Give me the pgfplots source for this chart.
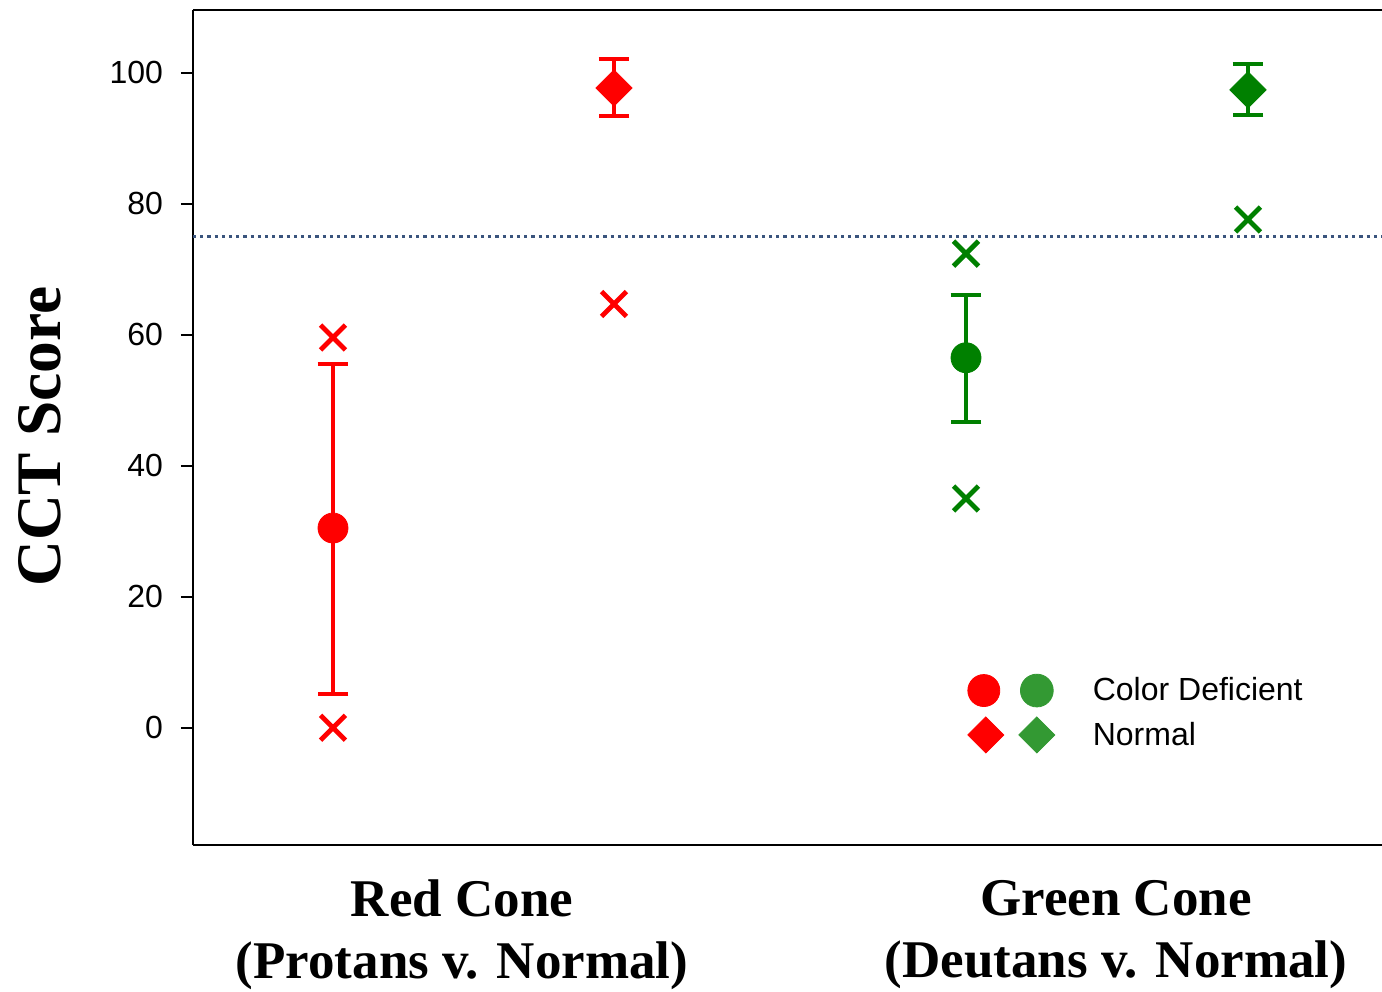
\documentclass[border=0pt]{standalone}
\usepackage{pgfplots}
\pgfplotsset{compat=1.18}
\usepackage{fontspec}
\setmainfont{Liberation Serif}
\newfontfamily\arial{Liberation Sans}
\definecolor{cred}{RGB}{255,0,0}
\definecolor{dgreen}{RGB}{0,128,0}
\definecolor{lgreen}{RGB}{51,153,51}
\definecolor{dotc}{RGB}{58,84,125}
\begin{document}
\begin{tikzpicture}
\begin{axis}[
  name=ax,
  scale only axis,
  width=594.5pt, height=417.5pt,
  xmin=193, xmax=1382,
  ymin=-17.9, ymax=109.6,
  axis x line=box,
  axis y line*=left,
  axis line style={line width=1pt, black},
  ytick={0,20,40,60,80,100},
  tick align=outside,
  major tick length=6pt,
  every tick/.style={black, line width=1pt},
  /pgf/number format/assume math mode=true,
  yticklabel style={font=\arial\fontsize{16}{19}\selectfont, xshift=-5.5pt},
  xtick={462,1116},
  xticklabels={{Red Cone\\(Protans v. Normal)},{Green Cone\\(Deutans v. Normal)}},
  x tick style={draw=none},
  xticklabel style={align=center, font=\fontsize{26.5}{31}\selectfont\bfseries, yshift=-8pt},
  ylabel={CCT Score},
  ylabel style={font=\fontsize{31.7}{36}\selectfont\bfseries, at={(axis description cs:-0.129,0.489)}, anchor=center},
  clip=false,
  legend style={draw=none, fill=none, inner sep=0pt, at={(axis description cs:0.651,0.207)}, anchor=north west, font=\arial\fontsize{16}{19}\selectfont, row sep=4pt},
  legend cell align=left,
]
% threshold line
\addplot[forget plot, dotc, line width=1.8pt, dash pattern=on 1.6pt off 2pt] coordinates {(193,75) (1382,75)};
% error bars + means
\addplot[forget plot, only marks, cred, mark=*, mark size=7.5pt,
  error bars/.cd, y dir=both, y explicit,
  error bar style={line width=2pt, cred},
  error mark options={rotate=90, mark size=7.7pt, line width=2pt, cred}]
  coordinates {(333,30.5) += (0,25.0) -= (0,25.4)};
\addplot[forget plot, only marks, cred, mark=square*, mark options={rotate=45}, mark size=6.4pt,
  error bars/.cd, y dir=both, y explicit,
  error bar style={line width=2pt, cred},
  error mark options={rotate=90, mark size=7.7pt, line width=2pt, cred}]
  coordinates {(614,97.7) += (0,4.4) -= (0,4.3)};
\addplot[forget plot, only marks, dgreen, mark=*, mark size=7.5pt,
  error bars/.cd, y dir=both, y explicit,
  error bar style={line width=2pt, dgreen},
  error mark options={rotate=90, mark size=7.7pt, line width=2pt, dgreen}]
  coordinates {(966,56.5) += (0,9.6) -= (0,9.8)};
\addplot[forget plot, only marks, dgreen, mark=square*, mark options={rotate=45}, mark size=6.4pt,
  error bars/.cd, y dir=both, y explicit,
  error bar style={line width=2pt, dgreen},
  error mark options={rotate=90, mark size=7.7pt, line width=2pt, dgreen}]
  coordinates {(1248,97.4) += (0,4.0) -= (0,3.8)};
% min/max crosses
\addplot[forget plot, only marks, cred, mark=x, mark size=8.8pt, mark options={line width=2.4pt}]
  coordinates {(333,59.6) (333,0) (614,64.7)};
\addplot[forget plot, only marks, dgreen, mark=x, mark size=8.8pt, mark options={line width=2.4pt}]
  coordinates {(966,72.4) (966,35.0) (1248,77.6)};
% legend
\addlegendimage{legend image code/.code={
  \fill[cred] (0pt,0pt) circle (8pt);
  \fill[lgreen] (26.5pt,0pt) circle (8.2pt);
  \path[draw=none, fill=none] (0pt,-9pt) rectangle (52.5pt,9pt);}}
\addlegendentry{Color Deficient}
\addlegendimage{legend image code/.code={
  \fill[cred] (1pt,9pt) -- (10pt,0pt) -- (1pt,-9pt) -- (-8pt,0pt) -- cycle;
  \fill[lgreen] (26.5pt,9pt) -- (35.5pt,0pt) -- (26.5pt,-9pt) -- (17.5pt,0pt) -- cycle;
  \path[draw=none, fill=none] (0pt,-9pt) rectangle (52.5pt,9pt);}}
\addlegendentry{Normal}
\end{axis}
\pgfresetboundingbox
\path[use as bounding box] ([shift={(-96.5pt,-73pt)}]ax.south west) rectangle ([shift={(0pt,5pt)}]ax.north east);
\end{tikzpicture}
\end{document}
